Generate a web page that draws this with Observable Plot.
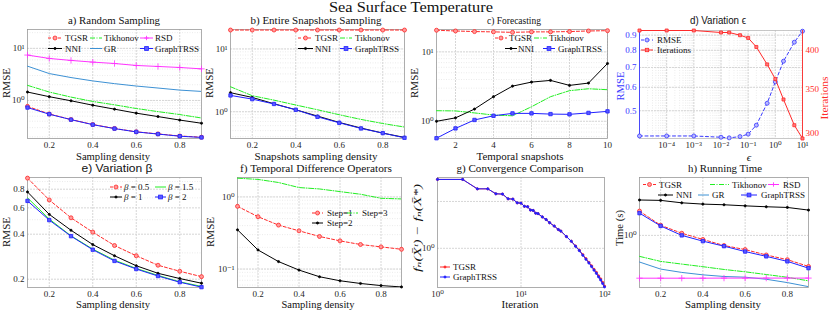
<!DOCTYPE html>
<html><head><meta charset="utf-8">
<script src="https://cdn.jsdelivr.net/npm/d3@7"></script>
<script src="https://cdn.jsdelivr.net/npm/@observablehq/plot@0.6"></script>
<style>
body{margin:0;background:#fff;}
#root{position:relative;width:830px;height:311px;overflow:hidden;background:#fff;}
</style></head><body><div id="root"></div>
<script>
// ---------------- DATA ----------------
const density = [0.1,0.2,0.3,0.4,0.5,0.6,0.7,0.8,0.9];
const densityTicks = [0.2,0.4,0.6,0.8];
// a) Random Sampling
const aTGSR = [0.77,0.55,0.43,0.345,0.29,0.25,0.228,0.208,0.197];
const aGraphTRSS = [0.73,0.545,0.428,0.343,0.288,0.249,0.226,0.206,0.195];
const aNNI = [1.45,1.18,0.985,0.81,0.68,0.57,0.49,0.42,0.365];
const aTikhonov = [1.95,1.45,1.16,0.956,0.824,0.70,0.61,0.536,0.46];
const aGR = [4.55,3.28,2.75,2.37,2.10,1.89,1.73,1.58,1.49];
const aRSD = [7.43,6.4,5.86,5.44,5.12,4.69,4.49,4.29,4.04];
// b) Entire Snapshots Sampling
const bTGSR = [20,20,20,20,20,20,20,20,20];
const bTikhonov = [2.5,1.8,1.53,1.28,1.076,0.896,0.755,0.65,0.57];
const bNNI = [2.01,1.69,1.34,1.076,0.853,0.676,0.55,0.457,0.39];
const bGraphTRSS = [1.82,1.59,1.33,1.076,0.83,0.667,0.542,0.457,0.385];
// c) Forecasting
const snapshots = [1,2,3,4,5,6,7,8,9,10];
const snapshotTicks = [2,4,6,8,10];
const cTGSR = [20.5,20.0,19.6,19.4,19.1,19.4,19.4,19.6,20.0,20.2];
const cNNI = [1.0,1.12,1.50,2.26,3.21,3.67,3.88,3.29,3.55,6.8];
const cTikhonov = [1.42,1.41,1.32,1.23,1.2,1.62,2.26,2.76,2.94,2.85];
const cGraphTRSS = [0.57,0.79,1.045,1.2,1.30,1.30,1.27,1.26,1.32,1.39];
// d) Variation epsilon
const epsilon = [1e-5,1e-4,1e-3,1e-2,2e-2,5e-2,0.1,0.2,0.5,1,2,5,10];
const epsTicks = [1e-4,1e-3,1e-2,1e-1,1,10];
const dRMSE = [0.411,0.411,0.411,0.407,0.405,0.409,0.417,0.447,0.53,0.626,0.735,0.852,0.928];
const dIterations = [429,429,429,426,426,422,418,405,381,362,337,308,294];
const dRMSETicks = [0.5,0.6,0.7,0.8,0.9];
const dIterTicks = [300,350,400];
// e) Variation beta
const eBeta05 = [0.949,0.678,0.515,0.413,0.336,0.287,0.248,0.226,0.208];
const eBeta1 = [0.767,0.543,0.425,0.341,0.287,0.246,0.219,0.202,0.188];
const eBeta15 = [0.70,0.505,0.39,0.318,0.268,0.236,0.212,0.192,0.179];
const eBeta2 = [0.668,0.497,0.388,0.315,0.265,0.234,0.21,0.191,0.177];
const eTicks = [0.2,0.4,0.6,0.8];
// f) Temporal Difference Operators
const fStep1 = [0.741,0.532,0.407,0.339,0.283,0.246,0.219,0.203,0.188];
const fStep2 = [0.350,0.184,0.127,0.0968,0.0782,0.0688,0.0631,0.059,0.0565];
const fStep3 = [1.82,1.75,1.585,1.35,1.29,1.186,1.09,0.958,0.938];
// g) Convergence Comparison
const gIteration = [1,2,3,4,5,6,7,8,9,10,11,12,13,14,15,16,18,20,22,25,28,30,35,40,45,50,55,60,65,70,75,80,85,90,95,100];
const gGraphTRSS = [2.77,2.77,2.41,2.41,2.24,2.23,2.08,2.07,1.96,1.95,1.86,1.85,1.76,1.75,1.68,1.67,1.59,1.53,1.46,1.39,1.32,1.29,1.19,1.11,1.03,0.966,0.902,0.85,0.805,0.763,0.723,0.69,0.655,0.626,0.594,0.565];
const gTGSR = [2.77,2.77,2.41,2.41,2.24,2.23,2.08,2.07,1.96,1.95,1.86,1.85,1.76,1.75,1.68,1.67,1.59,1.53,1.46,1.39,1.32,1.29,1.19,1.11,1.035,0.972,0.91,0.858,0.813,0.772,0.732,0.70,0.665,0.636,0.604,0.572];
// h) Running Time
const hTGSR = [1.74,1.26,1.05,0.912,0.794,0.724,0.64,0.575,0.493];
const hGraphTRSS = [1.66,1.24,1.0,0.877,0.782,0.692,0.62,0.553,0.474];
const hNNI = [2.24,2.22,2.10,2.04,2.01,1.96,1.92,1.89,1.78];
const hTikhonov = [0.62,0.553,0.52,0.49,0.46,0.436,0.41,0.385,0.355];
const hGR = [0.545,0.464,0.43,0.407,0.392,0.386,0.368,0.341,0.311];
const hRSD = [0.377,0.377,0.377,0.377,0.378,0.378,0.378,0.378,0.378];

// ---------------- STYLE ----------------
const SERIF = '"Liberation Serif","Times New Roman","DejaVu Serif",serif';
const SANS = '"Liberation Sans","DejaVu Sans",sans-serif';
const COL = {tgsr:"#ff2a2a", tik:"#22ee22", rsd:"#ff33ff", gr:"#3d91d4", gtrss:"#2020ff", rmse:"#3a3aff"};
const ST = {
  tgsr:  {color:COL.tgsr, dash:"3,2", marker:"circle", r:2, fill:"#ff9c9c"},
  tik:   {color:COL.tik, dash:"5,1.5,1,1.5"},
  rsd:   {color:COL.rsd, marker:"plus", r:2.2},
  nni:   {color:"#000", marker:"circle", r:1.1, fill:"#000"},
  gr:    {color:COL.gr},
  gtrss: {color:COL.gtrss, marker:"square", r:1.9, fill:"#5a5aff"},
  gred:  {color:COL.tgsr, marker:"circle", r:1.1, fill:COL.tgsr},
  gblue: {color:COL.gtrss, marker:"circle", r:1.1, fill:COL.gtrss},
  b15:   {color:COL.tik},
  s3:    {color:COL.tik, dash:"5,1.5,1,1.5"},
  rmse:  {color:COL.rmse, dash:"3,2.5", marker:"circle", r:2, fill:"#b8b8ff"},
  iter:  {color:COL.tgsr, marker:"square", r:1.7, fill:"#ff7a7a"}
};
const SUP = {"-":"⁻","0":"⁰","1":"¹","2":"²","3":"³","4":"⁴","5":"⁵","6":"⁶","7":"⁷","8":"⁸","9":"⁹"};
const pow10 = d => "10" + String(Math.round(Math.log10(d))).split("").map(c => SUP[c]).join("");
const dec1 = d => d3.format(".1f")(d);
function minorLog(lo, hi) {
  const out = [];
  for (let k = Math.floor(Math.log10(lo)); k <= Math.ceil(Math.log10(hi)); k++)
    for (let m = 1; m <= 9; m++) { const v = m * Math.pow(10, k); if (v > lo && v < hi) out.push(v); }
  return out;
}
const rows = (xs, ys) => xs.map((x, i) => ({x, y: ys[i]}));
function series(xs, ys, st) {
  const d = rows(xs, ys);
  const m = [Plot.line(d, {x:"x", y:"y", stroke:st.color, strokeWidth:st.w ?? 1, strokeDasharray:st.dash, clip:true})];
  if (st.marker) m.push(Plot.dot(d, {x:"x", y:"y", symbol:st.marker, r:st.r, fill:st.fill ?? "none", stroke:st.color, strokeWidth:0.8}));
  return m;
}
function grid(xmajor, ymajor, xminor = [], yminor = []) {
  return [
    Plot.ruleX(xminor, {stroke:"#ebebeb", strokeDasharray:"1,1.5"}),
    Plot.ruleY(yminor, {stroke:"#ebebeb", strokeDasharray:"1,1.5"}),
    Plot.ruleX(xmajor, {stroke:"#d6d6d6", strokeDasharray:"2,1"}),
    Plot.ruleY(ymajor, {stroke:"#d6d6d6", strokeDasharray:"2,1"})
  ];
}

const root = document.getElementById("root");
function panel(frame, cfg) {
  const [x0, x1, y0, y1] = frame;
  const ml = 34, mr = cfg.mr ?? 12, mt = 20, mb = 22;
  const svg = Plot.plot({
    width: ml + (x1 - x0) + mr, height: mt + (y1 - y0) + mb,
    marginLeft: ml, marginRight: mr, marginTop: mt, marginBottom: mb,
    x: cfg.x, y: cfg.y,
    style: {fontFamily: SERIF, fontSize: "9px", background: "transparent", overflow: "visible", color: "#262626"},
    marks: cfg.marks
  });
  svg.style.position = "absolute";
  svg.style.left = (x0 - ml) + "px";
  svg.style.top = (y0 - mt) + "px";
  root.appendChild(svg);
}
function axes(xt, xf, yt, yf) {
  return [
    Plot.axisX({ticks: xt, tickFormat: xf, tickSize: 0, tickPadding: 3.5, label: null}),
    Plot.axisY({ticks: yt, tickFormat: yf, tickSize: 0, tickPadding: 3, label: null})
  ];
}
const frameMark = () => Plot.frame({stroke: "#9a9a9a", strokeWidth: 0.8});

// a)
{
  const dom = [0.186, 23];
  panel([27, 201, 29, 138], {
    x: {domain: [0.1, 0.9]}, y: {type: "log", domain: dom},
    marks: [
      ...grid(densityTicks, [1, 10], [], minorLog(...dom)),
      frameMark(),
      ...series(density, aRSD, ST.rsd), ...series(density, aGR, ST.gr),
      ...series(density, aTikhonov, ST.tik), ...series(density, aNNI, ST.nni),
      ...series(density, aTGSR, ST.tgsr), ...series(density, aGraphTRSS, ST.gtrss),
      ...axes(densityTicks, dec1, [1, 10], pow10)
    ]
  });
}
// b)
{
  const dom = [0.375, 20.4];
  panel([230, 404, 29, 138], {
    x: {domain: [0.1, 0.9]}, y: {type: "log", domain: dom},
    marks: [
      ...grid(densityTicks, [1, 10], [], minorLog(...dom)),
      frameMark(),
      ...series(density, bTikhonov, ST.tik), ...series(density, bNNI, ST.nni),
      ...series(density, bGraphTRSS, ST.gtrss), ...series(density, bTGSR, ST.tgsr),
      ...axes(densityTicks, dec1, [1, 10], pow10)
    ]
  });
}
// c)
{
  const dom = [0.565, 21];
  panel([436, 607, 29, 138], {
    x: {domain: [1, 10]}, y: {type: "log", domain: dom},
    marks: [
      ...grid(snapshotTicks, [1, 10], [], minorLog(...dom)),
      frameMark(),
      ...series(snapshots, cTikhonov, ST.tik), ...series(snapshots, cNNI, ST.nni),
      ...series(snapshots, cGraphTRSS, ST.gtrss), ...series(snapshots, cTGSR, ST.tgsr),
      ...axes(snapshotTicks, d => String(d), [1, 10], pow10)
    ]
  });
}
// d)
{
  const dom = [0.403, 0.933];
  const xdom = [1e-5, 10];
  panel([639, 802, 30, 138], {
    x: {type: "log", domain: xdom}, y: {type: "log", domain: dom},
    marks: [
      ...grid(epsTicks, dRMSETicks, minorLog(...xdom), minorLog(...dom)),
      Plot.frame({stroke: "#bbbbbb", strokeWidth: 0.8}),
      Plot.ruleX([xdom[0]], {stroke: COL.rmse, strokeWidth: 0.9}),
      ...series(epsilon, dRMSE, ST.rmse),
      Plot.axisX({ticks: epsTicks, tickFormat: pow10, tickSize: 0, tickPadding: 3.5, label: null}),
      Plot.axisY({ticks: dRMSETicks, tickFormat: dec1, tickSize: 0, tickPadding: 3, label: null, color: COL.rmse})
    ]
  });
  panel([639, 802, 30, 138], {
    x: {type: "log", domain: xdom, axis: null}, y: {type: "log", domain: [294, 429]},
    marks: [
      Plot.ruleX([xdom[1]], {stroke: COL.tgsr, strokeWidth: 0.9}),
      ...series(epsilon, dIterations, ST.iter),
      Plot.axisY({anchor: "right", ticks: dIterTicks, tickFormat: d => String(d), tickSize: 0, tickPadding: 3, label: null, color: COL.tgsr})
    ], mr: 30
  });
}
// e)
{
  const dom = [0.176, 0.958];
  panel([27, 201, 177, 287], {
    x: {domain: [0.1, 0.9]}, y: {type: "log", domain: dom},
    marks: [
      ...grid(densityTicks, eTicks, [], [0.3, 0.5, 0.7, 0.9]),
      frameMark(),
      ...series(density, eBeta05, ST.tgsr), ...series(density, eBeta1, ST.nni),
      ...series(density, eBeta15, ST.b15), ...series(density, eBeta2, ST.gtrss),
      ...axes(densityTicks, dec1, eTicks, dec1)
    ]
  });
}
// f)
{
  const dom = [0.0555, 1.86];
  panel([237, 401, 177, 287], {
    x: {domain: [0.1, 0.9]}, y: {type: "log", domain: dom},
    marks: [
      ...grid(densityTicks, [0.1, 1], [], minorLog(...dom)),
      frameMark(),
      ...series(density, fStep3, ST.s3), ...series(density, fStep1, ST.tgsr),
      ...series(density, fStep2, ST.nni),
      ...axes(densityTicks, dec1, [0.1, 1], pow10)
    ]
  });
}
// g)
{
  const dom = [0.56, 2.85];
  panel([437, 604, 177, 287], {
    x: {type: "log", domain: [1, 100]}, y: {type: "log", domain: dom},
    marks: [
      ...grid([10], [1, 2], [], []),
      frameMark(),
      ...series(gIteration, gTGSR, ST.gred), ...series(gIteration, gGraphTRSS, ST.gblue),
      ...axes([1, 10, 100], pow10, [1], pow10)
    ]
  });
}
// h)
{
  const dom = [0.305, 3.74];
  panel([639, 808, 177, 287], {
    x: {domain: [0.1, 0.9]}, y: {type: "log", domain: dom},
    marks: [
      ...grid(densityTicks, [1], [], []),
      frameMark(),
      ...series(density, hNNI, ST.nni), ...series(density, hTikhonov, ST.tik),
      ...series(density, hGR, ST.gr), ...series(density, hRSD, ST.rsd),
      ...series(density, hTGSR, ST.tgsr), ...series(density, hGraphTRSS, ST.gtrss),
      ...axes(densityTicks, dec1, [1], pow10)
    ]
  });
}

// ---------------- TEXT & LEGENDS (overlay) ----------------
const ov = d3.select(root).append("svg")
  .attr("width", 830).attr("height", 311)
  .style("position", "absolute").style("left", "0px").style("top", "0px")
  .style("font-family", SERIF);

function T(x, y, s, o = {}) {
  const t = ov.append("text").attr("fill", o.color ?? "#111")
    .attr("font-size", o.size ?? 11).attr("text-anchor", "middle")
    .attr("font-family", o.family ?? null).attr("font-style", o.italic ? "italic" : null);
  if (o.rotate) t.attr("transform", `translate(${x},${y}) rotate(-90)`).attr("dy", "0.35em");
  else t.attr("x", x).attr("y", y);
  if (o.width) t.attr("textLength", o.width).attr("lengthAdjust", "spacingAndGlyphs");
  t.text(s);
  return t;
}
// main title
T(411, 12, "Sea Surface Temperature", {size: 15, width: 164});
// panel titles
T(114, 23.5, "a) Random Sampling", {width: 92});
T(316, 23.5, "b) Entire Snapshots Sampling", {width: 131});
T(514, 23.5, "c) Forecasting", {width: 54});
T(718, 23.5, "d) Variation ϵ", {size: 10, width: 56, family: SANS});
T(117, 172, "e) Variation β", {size: 10.5, width: 71, family: SANS});
T(316, 172, "f) Temporal Difference Operators", {width: 152});
T(520, 172, "g) Convergence Comparison", {width: 127});
T(725, 172, "h) Running Time", {width: 74});
// x labels
T(113, 159.5, "Sampling density", {size: 10.5, width: 74});
T(316, 159.5, "Snapshots sampling density", {size: 10.5, width: 123});
T(520, 159.5, "Temporal snapshots", {size: 10.5, width: 87});
T(749, 161, "ϵ", {italic: true});
T(113, 307.5, "Sampling density", {size: 10.5, width: 74});
T(318, 307.5, "Sampling density", {size: 10.5, width: 73});
T(520, 307.5, "Iteration", {size: 10.5, width: 37});
T(723, 307.5, "Sampling density", {size: 10.5, width: 76});
// y labels
T(6, 83, "RMSE", {rotate: true, width: 30});
T(209, 83, "RMSE", {rotate: true, width: 30});
T(414, 83, "RMSE", {rotate: true, width: 30});
T(620, 86, "RMSE", {rotate: true, width: 29, color: COL.rmse});
T(824, 98, "Iterations", {rotate: true, width: 43, color: COL.tgsr});
T(6, 232, "RMSE", {rotate: true, width: 30});
T(210, 232, "RMSE", {rotate: true, width: 30});
T(417, 228, "fₙ(X̄ᵗ) − fₙ(X̄*)", {rotate: true, width: 88, italic: true});
T(619, 228, "Time (s)", {rotate: true, width: 36});

function marker(g, st, cx, cy) {
  if (!st.marker) return;
  const r = st.r;
  if (st.marker === "circle") g.append("circle").attr("cx", cx).attr("cy", cy).attr("r", r).attr("fill", st.fill).attr("stroke", st.color).attr("stroke-width", 0.8);
  else if (st.marker === "square") g.append("rect").attr("x", cx - r).attr("y", cy - r).attr("width", 2 * r).attr("height", 2 * r).attr("fill", st.fill).attr("stroke", st.color).attr("stroke-width", 0.8);
  else if (st.marker === "plus") g.append("path").attr("d", `M${cx - r},${cy}H${cx + r}M${cx},${cy - r}V${cy + r}`).attr("stroke", st.color).attr("stroke-width", 0.9);
}
function legend(entries, fontSize = 9) {
  for (const e of entries) {
    const g = ov.append("g");
    g.append("line").attr("x1", e.x1).attr("x2", e.x2).attr("y1", e.y).attr("y2", e.y)
      .attr("stroke", e.st.color).attr("stroke-width", 1).attr("stroke-dasharray", e.st.dash ?? null);
    marker(g, e.st, (e.x1 + e.x2) / 2, e.y);
    const t = g.append("text").attr("x", e.tx).attr("y", e.y).attr("dy", "0.35em")
      .attr("font-size", fontSize).attr("fill", "#111");
    for (const seg of e.label) t.append("tspan").attr("font-style", seg.i ? "italic" : null).text(seg.t);
  }
}
const L = s => [{t: s}];
legend([
  {x1: 48, x2: 62, y: 38, tx: 65, st: ST.tgsr, label: L("TGSR")},
  {x1: 90, x2: 102, y: 38, tx: 104, st: ST.tik, label: L("Tikhonov")},
  {x1: 140, x2: 153, y: 38, tx: 155, st: ST.rsd, label: L("RSD")},
  {x1: 48, x2: 62, y: 48.5, tx: 65, st: ST.nni, label: L("NNI")},
  {x1: 90, x2: 102, y: 48.5, tx: 104, st: ST.gr, label: L("GR")},
  {x1: 140, x2: 153, y: 48.5, tx: 155, st: ST.gtrss, label: L("GraphTRSS")},
  // b
  {x1: 298, x2: 313, y: 38, tx: 315, st: ST.tgsr, label: L("TGSR")},
  {x1: 340, x2: 352, y: 38, tx: 355, st: ST.tik, label: L("Tikhonov")},
  {x1: 298, x2: 313, y: 48.5, tx: 315, st: ST.nni, label: L("NNI")},
  {x1: 340, x2: 352, y: 48.5, tx: 355, st: ST.gtrss, label: L("GraphTRSS")},
  // c
  {x1: 495, x2: 507, y: 38, tx: 509, st: ST.tgsr, label: L("TGSR")},
  {x1: 534, x2: 547, y: 38, tx: 549, st: ST.tik, label: L("Tikhonov")},
  {x1: 505, x2: 517, y: 48.5, tx: 518, st: ST.nni, label: L("NNI")},
  {x1: 543, x2: 555, y: 48.5, tx: 558, st: ST.gtrss, label: L("GraphTRSS")},
  // d
  {x1: 641, x2: 653, y: 40, tx: 657, st: ST.rmse, label: L("RMSE")},
  {x1: 641, x2: 653, y: 50, tx: 657, st: ST.iter, label: L("Iterations")},
  // e
  {x1: 110, x2: 122, y: 187, tx: 124, st: ST.tgsr, label: [{t: "β", i: true}, {t: " = 0.5"}]},
  {x1: 155, x2: 166, y: 187, tx: 168, st: ST.b15, label: [{t: "β", i: true}, {t: " = 1.5"}]},
  {x1: 110, x2: 122, y: 197, tx: 124, st: ST.nni, label: [{t: "β", i: true}, {t: " = 1"}]},
  {x1: 155, x2: 166, y: 197, tx: 168, st: ST.gtrss, label: [{t: "β", i: true}, {t: " = 2"}]},
  // f
  {x1: 312, x2: 323, y: 213, tx: 327, st: ST.tgsr, label: L("Step=1")},
  {x1: 347, x2: 358, y: 213, tx: 362, st: ST.s3, label: L("Step=3")},
  {x1: 312, x2: 323, y: 223, tx: 327, st: ST.nni, label: L("Step=2")},
  // g
  {x1: 440, x2: 450, y: 267, tx: 453, st: ST.gred, label: L("TGSR")},
  {x1: 440, x2: 450, y: 277, tx: 453, st: ST.gblue, label: L("GraphTRSS")},
  // h
  {x1: 643, x2: 656, y: 184.5, tx: 659, st: ST.tgsr, label: L("TGSR")},
  {x1: 710, x2: 729, y: 184.5, tx: 732, st: ST.tik, label: L("Tikhonov")},
  {x1: 768, x2: 779, y: 184.5, tx: 783, st: ST.rsd, label: L("RSD")},
  {x1: 658, x2: 673, y: 195, tx: 676, st: ST.nni, label: L("NNI")},
  {x1: 698, x2: 709, y: 195, tx: 712, st: ST.gr, label: L("GR")},
  {x1: 741, x2: 757, y: 195, tx: 761, st: ST.gtrss, label: L("GraphTRSS")}
]);
</script>
</body></html>
